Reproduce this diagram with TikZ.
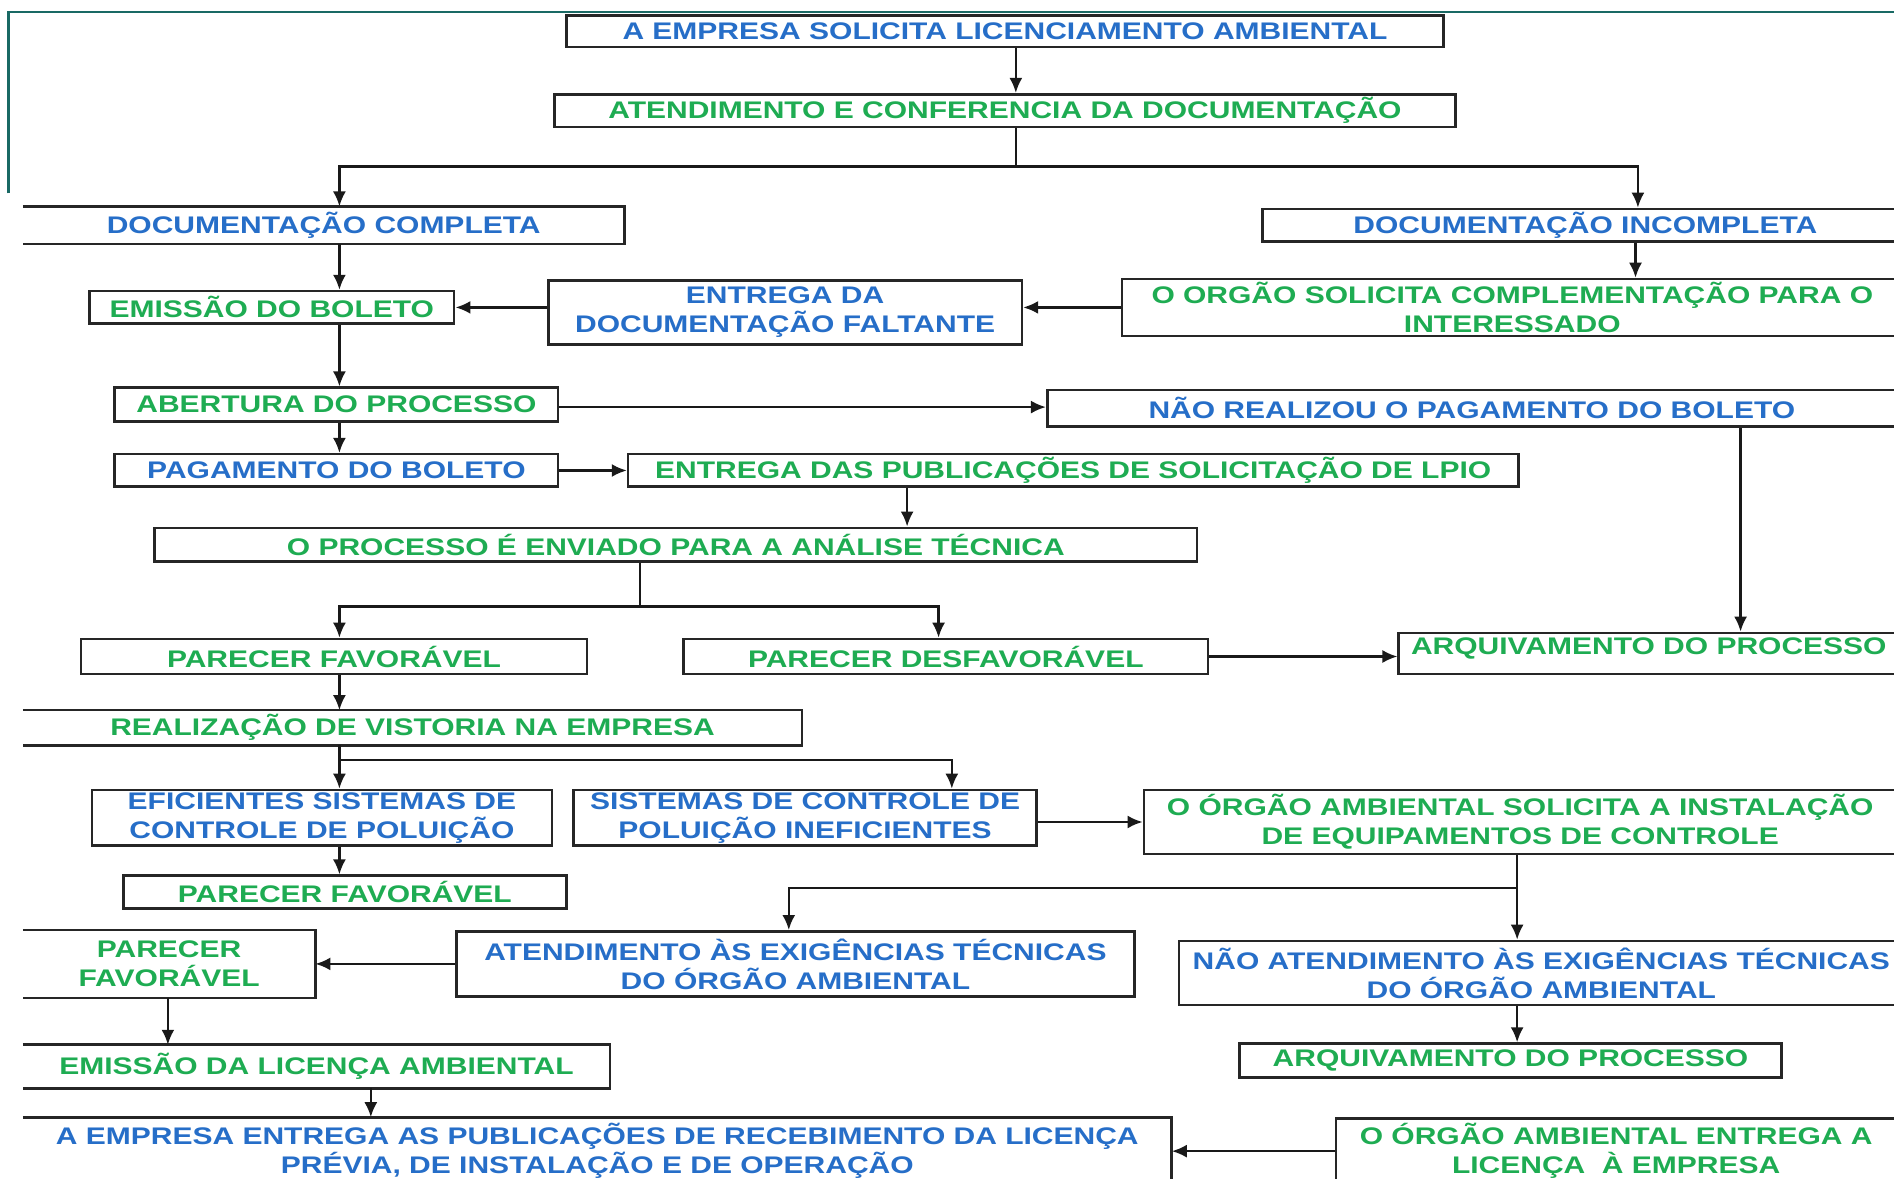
\documentclass[tikz,border=0pt]{standalone}
\usepackage{fontspec}
\newfontfamily\bxf[FakeStretch=1.25]{Liberation Sans Bold}
\usetikzlibrary{arrows.meta}
\definecolor{tb}{RGB}{38,110,200}
\definecolor{tg}{RGB}{30,172,82}
\definecolor{framec}{RGB}{25,105,100}
\tikzset{
  bx/.style={draw=black!85, line width=2.6pt, inner sep=0pt, align=center, font=\bxf\fontsize{24}{29}\selectfont},
  ob/.style={bx, draw=none},
  bl/.style={text=tb},
  gr/.style={text=tg},
  side/.style={draw=black!85, line width=2.6pt},
  ln/.style={line width=2.4pt, black!90},
  arr/.style={ln, -{Latex[length=15pt,width=13pt]}},
}
% box macro: [style]{name}{x1}{y1}{x2}{y2}
\newcommand\bxn[6][]{\node[bx,#1,minimum width={(#5-#3)*1.208pt},minimum height={(#6-#4)*1.208pt}] (#2) at ({(#3+#5)/2},{(#4+#6)/2})}
\begin{document}
\begin{tikzpicture}[x=1.208pt,y=-1.208pt]
\clip (0,0) rectangle (1568,976);
\fill[white] (0,0) rectangle (1568,976);
% teal frame
\draw[framec, line width=2.4pt] (7,160) -- (7,10) -- (1575,10);

% boxes
\bxn[bl]{n1}{469}{13}{1195}{39} {A EMPRESA SOLICITA LICENCIAMENTO AMBIENTAL};
\bxn[gr]{n2}{459}{78}{1205}{105} {ATENDIMENTO E CONFERENCIA DA DOCUMENTAÇÃO};
\bxn[ob,bl]{n3}{20}{172}{516}{201} {DOCUMENTAÇÃO COMPLETA};
\draw[side] (n3.north west) -- (n3.north east) -- (n3.south east) -- (n3.south west);
\bxn[bl]{n4}{1045}{173}{1580}{200} {DOCUMENTAÇÃO INCOMPLETA};
\bxn[gr]{n5}{74}{241}{376}{268} {EMISSÃO DO BOLETO};
\bxn[bl]{n6}{454}{232}{846}{285} {ENTREGA DA\\DOCUMENTAÇÃO FALTANTE};
\bxn[gr]{n7}{929}{231}{1575}{278} {O ORGÃO SOLICITA COMPLEMENTAÇÃO PARA O\\INTERESSADO};
\bxn[gr]{n8}{95}{321}{462}{349} {ABERTURA DO PROCESSO};
\bxn[bl]{n9}{867}{323}{1570}{353} {NÃO REALIZOU O PAGAMENTO DO BOLETO};
\bxn[bl]{n10}{95}{376}{462}{403} {PAGAMENTO DO BOLETO};
\bxn[gr]{n11}{520}{376}{1257}{403} {ENTREGA DAS PUBLICAÇÕES DE SOLICITAÇÃO DE LPIO};
\bxn[gr]{n12}{128}{437}{991}{465} {O PROCESSO É ENVIADO PARA A ANÁLISE TÉCNICA};
\bxn[gr]{n13}{67}{529}{486}{558} {PARECER FAVORÁVEL};
\bxn[gr]{n14}{566}{529}{1000}{558} {PARECER DESFAVORÁVEL};
\bxn{n15}{1158}{524}{1572}{558} {};
\node[ob,gr,yshift=5pt] (n15t) at (n15.center) {ARQUIVAMENTO DO PROCESSO};
\bxn[ob,gr]{n16}{20}{589}{663}{616} {REALIZAÇÃO DE VISTORIA NA EMPRESA};
\draw[side] (n16.north west) -- (n16.north east) -- (n16.south east) -- (n16.south west);
\bxn[bl]{n17}{76}{654}{457}{700} {EFICIENTES SISTEMAS DE\\CONTROLE DE POLUIÇÃO};
\bxn[bl]{n18}{475}{654}{858}{700} {SISTEMAS DE CONTROLE DE\\POLUIÇÃO INEFICIENTES};
\bxn[gr]{n19}{947}{654}{1570}{707} {O ÓRGÃO AMBIENTAL SOLICITA A INSTALAÇÃO\\DE EQUIPAMENTOS DE CONTROLE};
\bxn[gr]{n20}{102}{725}{469}{752} {PARECER FAVORÁVEL};
\bxn[ob,gr]{n21}{20}{771}{260}{825} {PARECER\\FAVORÁVEL};
\draw[side] (n21.north west) -- (n21.north east) -- (n21.south east) -- (n21.south west);
\bxn[bl]{n22}{378}{771}{939}{825} {ATENDIMENTO ÀS EXIGÊNCIAS TÉCNICAS\\DO ÓRGÃO AMBIENTAL};
\bxn[bl]{n23}{976}{779}{1576}{832} {NÃO ATENDIMENTO ÀS EXIGÊNCIAS TÉCNICAS\\DO ÓRGÃO AMBIENTAL};
\bxn[gr]{n24}{1026}{864}{1475}{892} {ARQUIVAMENTO DO PROCESSO};
\bxn[ob,gr]{n25}{20}{866}{504}{900} {EMISSÃO DA LICENÇA AMBIENTAL};
\draw[side] (n25.north west) -- (n25.north east) -- (n25.south east) -- (n25.south west);
\bxn[ob,bl]{n26}{20}{926}{969}{980} {A EMPRESA ENTREGA AS PUBLICAÇÕES DE RECEBIMENTO DA LICENÇA\\PRÉVIA, DE INSTALAÇÃO E DE OPERAÇÃO};
\draw[side] (n26.north west) -- (n26.north east) -- (n26.south east) -- (n26.south west);
\bxn[gr]{n27}{1106}{926}{1570}{980} {O ÓRGÃO AMBIENTAL ENTREGA A\\LICENÇA \ À EMPRESA};

% guide coordinates
\coordinate (j1) at (841,138);
\coordinate (j1l) at (281,138);
\coordinate (j1r) at (1356,138);
\coordinate (x1354) at (1354,0);
\coordinate (x751) at (751,0);
\coordinate (x1441) at (1441,0);
\coordinate (y337) at (0,337);
\coordinate (j2) at (530,502);
\coordinate (j2l) at (281,502);
\coordinate (j2r) at (777,502);
\coordinate (j3) at (281,629);
\coordinate (j3r) at (788,629);
\coordinate (j4) at (1256,735);
\coordinate (j4l) at (653,735);
\coordinate (x139) at (139,0);
\coordinate (x307) at (307,0);

% connectors
\draw[arr] (n1.south -| j1) -- (n2.north -| j1);
\draw[arr] (n2.south -| j1) -- (j1) -| (n3.north -| j1l);
\draw[arr] (j1) -| (n4.north -| j1r);
\draw[arr] (n3.south -| j1l) -- (n5.north -| j1l);
\draw[arr] (n4.south -| x1354) -- (n7.north -| x1354);
\draw[arr] (n7.west) -- (n6.east |- n7.west);
\draw[arr] (n6.west |- n5.east) -- (n5.east);
\draw[arr] (n5.south -| j1l) -- (n8.north -| j1l);
\draw[arr] (n8.east |- y337) -- (n9.west |- y337);
\draw[arr] (n8.south -| j1l) -- (n10.north -| j1l);
\draw[arr] (n10.east) -- (n11.west |- n10.east);
\draw[arr] (n11.south -| x751) -- (n12.north -| x751);
\draw[arr] (n9.south -| x1441) -- (n15.north -| x1441);
\draw[ln] (n12.south -| j2) -- (j2);
\draw[arr] (j2) -- (j2l) -- (n13.north -| j2l);
\draw[arr] (j2) -- (j2r) -- (n14.north -| j2r);
\draw[arr] (n14.east) -- (n15.west |- n14.east);
\draw[arr] (n13.south -| j1l) -- (n16.north -| j1l);
\draw[arr] (n16.south -| j3) -- (n17.north -| j3);
\draw[arr] (j3) -- (j3r) -- (n18.north -| j3r);
\draw[arr] (n17.south -| j3) -- (n20.north -| j3);
\draw[arr] (n18.east |- n19.west) -- (n19.west);
\draw[arr] (n19.south -| j4) -- (n23.north -| j4);
\draw[arr] (j4) -- (j4l) -- (n22.north -| j4l);
\draw[arr] (n22.west) -- (n21.east |- n22.west);
\draw[arr] (n21.south -| x139) -- (n25.north -| x139);
\draw[arr] (n23.south -| j4) -- (n24.north -| j4);
\draw[arr] (n25.south -| x307) -- (n26.north -| x307);
\draw[arr] (n27.west) -- (n26.east |- n27.west);
\end{tikzpicture}
\end{document}
